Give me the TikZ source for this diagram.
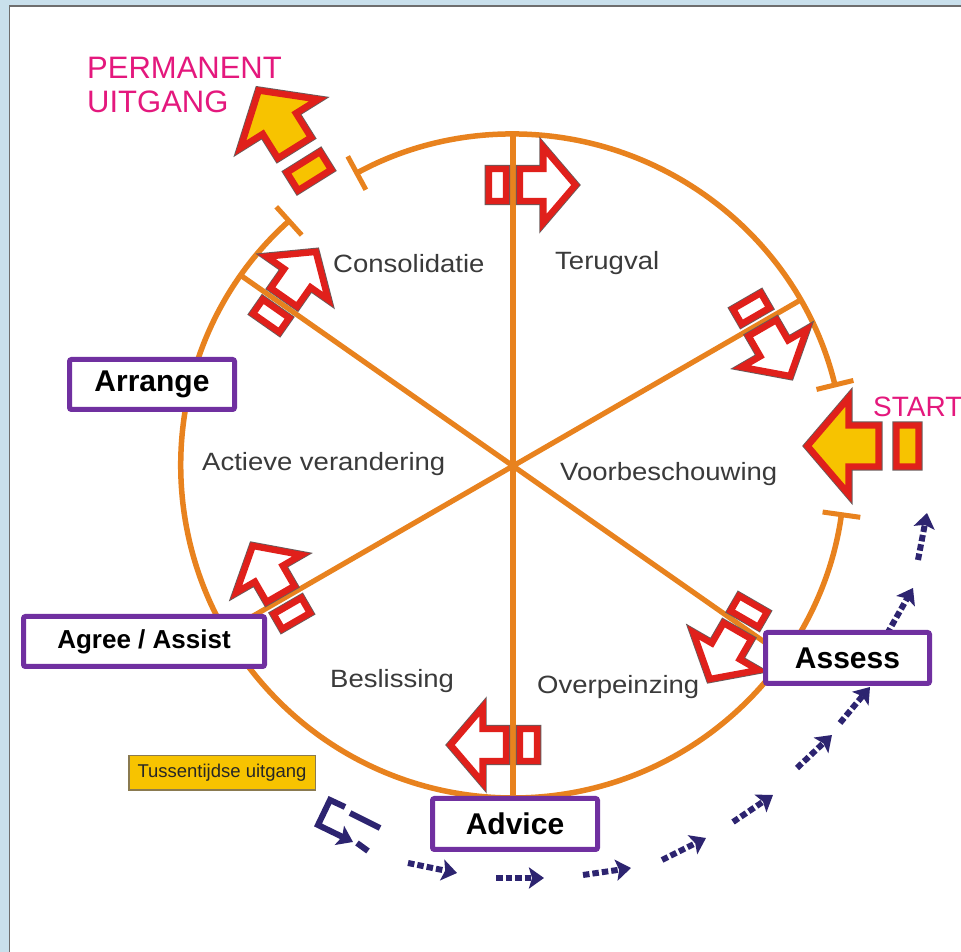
\documentclass[tikz,border=0pt]{standalone}
\usepackage{fontspec}
\setmainfont{Liberation Sans}
\newfontfamily\labfont[FakeStretch=1.1]{Liberation Sans}
\usetikzlibrary{arrows.meta,calc}
\definecolor{bgblue}{HTML}{C9E0EC}
\definecolor{framegray}{HTML}{6E6E6E}
\definecolor{ringorange}{HTML}{E8821E}
\definecolor{arrred}{HTML}{E0201B}
\definecolor{edgegray}{HTML}{6A5A5A}
\definecolor{exityellow}{HTML}{F7C300}
\definecolor{boxpurple}{HTML}{7030A0}
\definecolor{exitpink}{HTML}{E4187D}
\definecolor{pathnavy}{HTML}{2D2470}
\definecolor{labgray}{HTML}{3A3A3A}
\definecolor{tussgray}{HTML}{8A7A50}

% hollow block arrow: a bar, a gap, then an arrow; origin at the gap
\newcommand{\blockarrow}[5]{%
  \begin{scope}[shift={(#1,#2)},rotate=#3,scale=#5]
    \foreach \lw/\col in {8.2/edgegray,6.4/arrred}{
      \filldraw[fill=#4,draw=\col,line width=\lw pt,line join=miter,miter limit=10]
        (-31,-20.5) rectangle (-9,20.5)
        (9,-20.5) -- (39,-20.5) -- (39,-48) -- (80,0) -- (39,48) -- (39,20.5) -- (9,20.5) -- cycle;
    }
  \end{scope}}

\begin{document}
\begin{tikzpicture}[x=1pt,y=1pt,
  ring/.style={ringorange,line width=5.5pt},
  spoke/.style={ringorange,line width=5.2pt},
  gapend/.style={{Bar[width=38pt,line width=5pt]}-{Bar[width=38pt,line width=5pt]}},
  stage/.style={font=\labfont\fontsize{25}{30}\selectfont,text=labgray,inner sep=0pt,anchor=base west},
  phasebox/.style={draw=boxpurple,line width=5pt,fill=white,rounded corners=2pt,inner sep=0pt,font=\bfseries\fontsize{30}{36}\selectfont},
  hop/.style={pathnavy,line width=6pt,dash pattern=on 6.5pt off 3pt,-{Stealth[length=15pt,width=21pt,inset=3pt]}},
  exitlabel/.style={text=exitpink,font=\fontsize{31}{34}\selectfont,inner sep=0pt,anchor=base west}
]
\useasboundingbox (0,0) rectangle (961,952);

% frame
\fill[bgblue] (0,0) rectangle (961,952);
\fill[white] (10,0) rectangle (961,945.5);
\draw[framegray,line width=1.8pt] (9.5,0) -- (9.5,946) -- (961,946);

% wheel
\coordinate (C) at (513,486);
\draw[ring,gapend] ($(C)+(13.7:332)$) arc[start angle=13.7,end angle=118.5,radius=332];
\draw[ring,gapend] ($(C)+(132:332)$) arc[start angle=132,end angle=352,radius=332];
\draw[spoke] ($(C)+(90:332)$) -- ($(C)+(270:332)$);
\draw[spoke] ($(C)+(30:332)$) -- ($(C)+(210:332)$);
\draw[spoke] ($(C)+(145:332)$) -- ($(C)+(325:332)$);

% stage transitions
\blockarrow{513}{767}{0}{white}{0.78}
\blockarrow{759}{630}{-60}{white}{0.78}
\blockarrow{741}{327}{-120}{white}{0.78}
\blockarrow{513}{207}{180}{white}{0.78}
\blockarrow{284}{352}{120}{white}{0.78}
\blockarrow{280}{649}{55}{white}{0.78}

% entry and exit
\blockarrow{887.5}{506}{180}{exityellow}{1}
\blockarrow{299}{797}{122}{exityellow}{0.95}

% stage names
\node[stage] (consol) at (333,679) {Consolidatie};
\node[stage] (terug) at (555,682) {Terugval};
\node[stage] (voorb) at (560,471) {Voorbeschouwing};
\node[stage] (overp) at (537,258) {Overpeinzing};
\node[stage] (besl) at (330,264) {Beslissing};
\node[stage] (actief) at (202,481) {Actieve verandering};

\node[exitlabel] (perm1) at (87,873) {PERMANENT};
\node[exitlabel] (perm2) at (87,839) {UITGANG};
\node[exitlabel,font=\fontsize{28}{30}\selectfont] (start) at (873,535) {START};

% route around the wheel
\foreach \i/\ax/\ay/\bx/\by in {1/408/89/457/79, 2/496/74/544/74, 3/583/77/631/84,
    4/662/92/706/114, 5/733/130/773/157, 6/797/184/832/217, 7/840/229/870/265,
    8/887/318/913/364, 9/918/392/927/439}{
  \coordinate (h\i a) at (\ax,\ay);
  \coordinate (h\i b) at (\bx,\by);
  \draw[hop] (h\i a) -- (h\i b);
}

% interim exit sign
\coordinate (r1) at (380,124);
\coordinate (r2) at (350,139);
\coordinate (r3) at (345,145);
\coordinate (r4) at (330,152);
\coordinate (r5) at (318,127);
\coordinate (r6) at (353,110);
\coordinate (r7) at (357,109);
\coordinate (r8) at (368,101);
\draw[pathnavy,line width=6pt] (r1) -- (r2);
\draw[pathnavy,line width=6pt,line join=miter,-{Stealth[length=15pt,width=21pt,inset=3pt]}] (r3) -- (r4) -- (r5) -- (r6);
\draw[pathnavy,line width=6pt] (r7) -- (r8);

\node[fill=exityellow,draw=tussgray,line width=1.5pt,minimum width=186.5pt,minimum height=34.5pt,inner sep=0pt,
  font=\fontsize{18.5}{22}\selectfont,text=black!85] (tussen) at (222,179) {Tussentijdse uitgang};

% 5A boxes
\node[phasebox,minimum width=165pt,minimum height=50pt] (arrange) at (152,567.5) {Arrange};
\node[phasebox,minimum width=241pt,minimum height=50pt,font=\bfseries\fontsize{26}{30}\selectfont] (agree) at (144,310.5) {Agree / Assist};
\node[phasebox,minimum width=165pt,minimum height=51pt] (advice) at (515,128) {Advice};
\node[phasebox,minimum width=164pt,minimum height=51pt] (assess) at (847.5,294) {Assess};
\end{tikzpicture}
\end{document}
